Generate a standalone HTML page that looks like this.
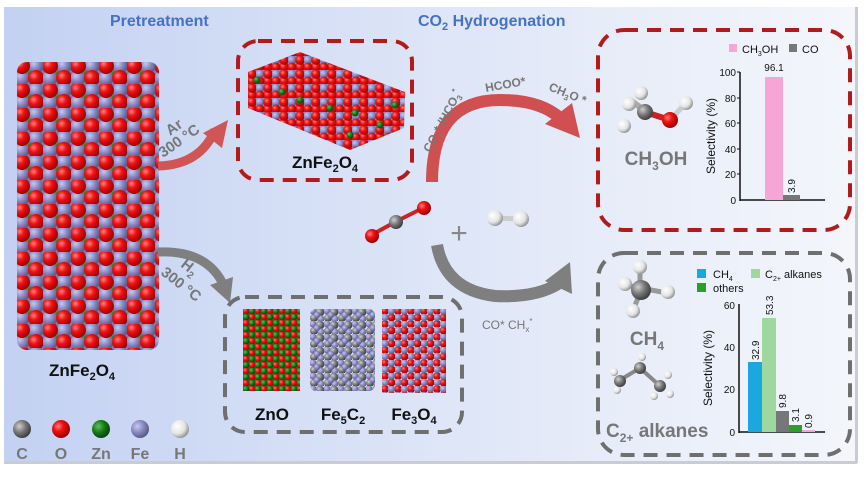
<!DOCTYPE html>
<html><head><meta charset="utf-8"><style>
html,body{margin:0;padding:0;background:#fff;}
svg{display:block;font-family:"Liberation Sans",Arial,sans-serif;}
</style></head><body>
<svg width="866" height="477" viewBox="0 0 866 477" xmlns="http://www.w3.org/2000/svg">
<defs>
<linearGradient id="bg" x1="0" y1="0" x2="1" y2="0">
<stop offset="0" stop-color="#c3d1f2"/><stop offset="0.5" stop-color="#dde5f7"/><stop offset="1" stop-color="#f4f6fb"/>
</linearGradient>
<radialGradient id="gR" cx="0.35" cy="0.35" r="0.7"><stop offset="0" stop-color="#ff8080"/><stop offset="0.4" stop-color="#ee1111"/><stop offset="1" stop-color="#990000"/></radialGradient>
<radialGradient id="gP" cx="0.35" cy="0.35" r="0.7"><stop offset="0" stop-color="#c8c8ee"/><stop offset="0.5" stop-color="#8a8ac4"/><stop offset="1" stop-color="#55557f"/></radialGradient>
<radialGradient id="gG" cx="0.35" cy="0.35" r="0.7"><stop offset="0" stop-color="#5fbf5f"/><stop offset="0.5" stop-color="#167a16"/><stop offset="1" stop-color="#0a400a"/></radialGradient>
<radialGradient id="gK" cx="0.35" cy="0.35" r="0.7"><stop offset="0" stop-color="#cfcfcf"/><stop offset="0.5" stop-color="#777"/><stop offset="1" stop-color="#3a3a3a"/></radialGradient>
<radialGradient id="gW" cx="0.35" cy="0.35" r="0.7"><stop offset="0" stop-color="#ffffff"/><stop offset="0.6" stop-color="#e4e4e4"/><stop offset="1" stop-color="#8d8d8d"/></radialGradient>
<pattern id="pBig" width="28" height="24" patternUnits="userSpaceOnUse" x="15" y="60">
<rect width="28" height="24" fill="#7a7ab0"/>
<circle cx="14" cy="12" r="6" fill="url(#gG)"/>
<circle cx="21" cy="6" r="7.5" fill="url(#gP)"/>
<circle cx="7" cy="18" r="7.5" fill="url(#gP)"/>
<circle cx="7" cy="6" r="8" fill="url(#gR)"/>
<circle cx="21" cy="18" r="8" fill="url(#gR)"/>
</pattern>
<pattern id="pSlab" width="16" height="14" patternUnits="userSpaceOnUse">
<rect width="16" height="14" fill="#8a8ac4"/>
<circle cx="4" cy="4" r="4.5" fill="url(#gP)"/>
<circle cx="12" cy="11" r="5" fill="url(#gR)"/>
<circle cx="12" cy="4" r="4.8" fill="url(#gR)"/>
<circle cx="4" cy="11" r="4.5" fill="url(#gR)"/>
</pattern>
<pattern id="pZnO" width="12" height="12" patternUnits="userSpaceOnUse" x="243" y="308">
<rect width="12" height="12" fill="#167a16"/>
<circle cx="3" cy="3" r="3.6" fill="url(#gR)"/>
<circle cx="9" cy="9" r="3.6" fill="url(#gR)"/>
<circle cx="9" cy="3" r="3.3" fill="url(#gG)"/>
<circle cx="3" cy="9" r="3.3" fill="url(#gG)"/>
</pattern>
<pattern id="pFeC" width="14" height="13" patternUnits="userSpaceOnUse" x="310" y="308">
<circle cx="3" cy="3" r="3.6" fill="url(#gP)"/>
<circle cx="10" cy="4" r="4.4" fill="url(#gK)"/>
<circle cx="4" cy="10" r="4" fill="url(#gK)"/>
<circle cx="11" cy="11" r="3.6" fill="url(#gP)"/>
<circle cx="7" cy="7" r="3.2" fill="url(#gP)"/>
</pattern>
<pattern id="pFeO" width="13" height="13" patternUnits="userSpaceOnUse" x="382" y="308">
<circle cx="3" cy="3" r="4" fill="url(#gR)"/>
<circle cx="9.5" cy="9.5" r="4" fill="url(#gR)"/>
<circle cx="9.5" cy="3" r="3.8" fill="url(#gP)"/>
<circle cx="3" cy="9.5" r="3.8" fill="url(#gP)"/>
</pattern>
</defs>

<rect x="0" y="0" width="866" height="477" fill="#fff"/>
<rect x="4" y="7" width="853" height="456" fill="url(#bg)"/>
<rect x="855" y="7" width="3" height="456" fill="#c9ccd3"/>
<rect x="4" y="461" width="853" height="3" fill="#c9ccd3"/>

<text x="110" y="26" font-size="16" font-weight="bold" fill="#4472c4">Pretreatment</text>
<text x="418" y="26" font-size="16" font-weight="bold" fill="#4472c4">CO<tspan font-size="11" dy="4">2</tspan><tspan dy="-4"> Hydrogenation</tspan></text>

<rect x="17" y="62" width="142" height="288" rx="10" fill="url(#pBig)"/>
<text x="82" y="376" font-size="17" font-weight="bold" fill="#111" text-anchor="middle">ZnFe<tspan font-size="11" dy="4">2</tspan><tspan dy="-4">O</tspan><tspan font-size="11" dy="4">4</tspan></text>

<circle cx="22" cy="429" r="9" fill="url(#gK)"/>
<circle cx="61" cy="429" r="9" fill="url(#gR)"/>
<circle cx="101" cy="429" r="9" fill="url(#gG)"/>
<circle cx="140" cy="429" r="9" fill="url(#gP)"/>
<circle cx="180" cy="429" r="9" fill="url(#gW)"/>
<g font-size="16" font-weight="bold" fill="#777" text-anchor="middle">
<text x="22" y="459">C</text><text x="61" y="459">O</text><text x="101" y="459">Zn</text><text x="140" y="459">Fe</text><text x="180" y="459">H</text>
</g>

<path d="M158,166 Q200,165 215,130" fill="none" stroke="#d05555" stroke-width="9"/>
<polygon points="228,120 222,148 203,133" fill="#d05555"/>
<text font-size="15" font-weight="bold" fill="#777" transform="translate(170,136) rotate(-35)">Ar</text>
<text font-size="15" font-weight="bold" fill="#777" transform="translate(163,158) rotate(-35)">300 °C</text>

<path d="M158,252 Q205,250 222,282" fill="none" stroke="#7f7f7f" stroke-width="9"/>
<polygon points="230,303 210,285 233,277" fill="#7f7f7f"/>
<text font-size="15" font-weight="bold" fill="#777" transform="translate(180,266) rotate(38)">H<tspan font-size="10" dy="4">2</tspan></text>
<text font-size="15" font-weight="bold" fill="#777" transform="translate(160,274) rotate(38)">300 °C</text>

<rect x="238" y="41" width="174" height="139" rx="20" fill="none" stroke="#b31b1b" stroke-width="4" stroke-dasharray="14 9"/>
<polygon points="248,72 300,52 405,92 404,128 350,150 248,108" fill="url(#pSlab)"/>
<circle cx="257" cy="80" r="3.5" fill="url(#gG)"/><circle cx="282" cy="92" r="3.5" fill="url(#gG)"/><circle cx="300" cy="100" r="3.5" fill="url(#gG)"/><circle cx="330" cy="108" r="3.5" fill="url(#gG)"/><circle cx="355" cy="113" r="3.5" fill="url(#gG)"/><circle cx="395" cy="105" r="3.5" fill="url(#gG)"/><circle cx="350" cy="135" r="3.5" fill="url(#gG)"/><circle cx="380" cy="125" r="3.5" fill="url(#gG)"/>
<text x="325" y="168" font-size="17" font-weight="bold" fill="#111" text-anchor="middle">ZnFe<tspan font-size="11" dy="4">2</tspan><tspan dy="-4">O</tspan><tspan font-size="11" dy="4">4</tspan></text>

<rect x="225" y="297" width="237" height="135" rx="20" fill="none" stroke="#6f6f6f" stroke-width="4" stroke-dasharray="14 9"/>
<rect x="243" y="309" width="57" height="82" fill="url(#pZnO)"/>
<rect x="310" y="309" width="65" height="82" rx="6" fill="url(#pFeC)"/>
<rect x="382" y="309" width="64" height="84" fill="url(#pFeO)"/>
<g font-size="17" font-weight="bold" fill="#111" text-anchor="middle">
<text x="272" y="420">ZnO</text>
<text x="343" y="420">Fe<tspan font-size="11" dy="4">5</tspan><tspan dy="-4">C</tspan><tspan font-size="11" dy="4">2</tspan></text>
<text x="414" y="420">Fe<tspan font-size="11" dy="4">3</tspan><tspan dy="-4">O</tspan><tspan font-size="11" dy="4">4</tspan></text>
</g>

<path d="M432,182 Q432,100 500,100 Q540,100 560,118" fill="none" stroke="#d04f50" stroke-width="12"/>
<polygon points="572,103 580,138 545,124" fill="#d04f50"/>
<g font-size="12" fill="#777" font-weight="bold">
<text transform="translate(430,153) rotate(-62)">CO<tspan font-size="8" dy="3">3</tspan><tspan dy="-3">* /HCO</tspan><tspan font-size="8" dy="3">3</tspan><tspan font-size="8" dy="-8">*</tspan></text>
<text transform="translate(486,92) rotate(-10)">HCOO*</text>
<text transform="translate(548,90) rotate(22)">CH<tspan font-size="8" dy="3">3</tspan><tspan dy="-3">O *</tspan></text>
</g>

<path d="M437,245 Q445,290 495,296 Q535,298 558,284" fill="none" stroke="#7f7f7f" stroke-width="12"/>
<polygon points="570,262 572,294 545,281" fill="#7f7f7f"/>
<text x="482" y="329" font-size="12" fill="#777">CO* CH<tspan font-size="8" dy="3">x</tspan><tspan font-size="8" dy="-8">*</tspan></text>

<line x1="368" y1="237" x2="395" y2="222" stroke="#c22" stroke-width="4"/>
<line x1="395" y1="222" x2="423" y2="208" stroke="#c22" stroke-width="4"/>
<circle cx="372" cy="236" r="7" fill="url(#gR)"/>
<circle cx="396" cy="222" r="7" fill="url(#gK)"/>
<circle cx="424" cy="208" r="7" fill="url(#gR)"/>
<text x="459" y="243" font-size="30" fill="#888" text-anchor="middle">+</text>
<line x1="495" y1="218" x2="521" y2="219" stroke="#ccc" stroke-width="5"/>
<circle cx="495" cy="218" r="8" fill="url(#gW)"/>
<circle cx="521" cy="219" r="8" fill="url(#gW)"/>

<rect x="598" y="30" width="252" height="200" rx="26" fill="none" stroke="#b31b1b" stroke-width="4" stroke-dasharray="14 9"/>
<line x1="630" y1="100" x2="648" y2="113" stroke="#aaa" stroke-width="6"/>
<line x1="648" y1="113" x2="670" y2="120" stroke="#c22" stroke-width="6"/>
<line x1="670" y1="120" x2="686" y2="103" stroke="#ccc" stroke-width="5"/>
<circle cx="641" cy="93" r="7" fill="url(#gW)"/>
<circle cx="629" cy="104" r="7" fill="url(#gW)"/>
<circle cx="645" cy="112" r="8" fill="url(#gK)"/>
<circle cx="624" cy="126" r="7" fill="url(#gW)"/>
<circle cx="670" cy="120" r="8" fill="url(#gR)"/>
<circle cx="686" cy="103" r="7" fill="url(#gW)"/>
<text x="656" y="165" font-size="19" font-weight="bold" fill="#777" text-anchor="middle">CH<tspan font-size="12" dy="5">3</tspan><tspan dy="-5">OH</tspan></text>
<rect x="729" y="44" width="8" height="8" fill="#f6a6d6"/>
<text x="742" y="53" font-size="11" fill="#111">CH<tspan font-size="7" dy="3">3</tspan><tspan dy="-3">OH</tspan></text>
<rect x="789" y="44" width="8" height="8" fill="#777"/>
<text x="802" y="53" font-size="11" fill="#111">CO</text>
<line x1="740" y1="72" x2="740" y2="201" stroke="#111" stroke-width="1.5"/>
<line x1="740" y1="200" x2="825" y2="200" stroke="#111" stroke-width="1.5"/>
<g font-size="10" fill="#111" text-anchor="end">
<text x="736" y="76">100</text><text x="736" y="102">80</text><text x="736" y="127">60</text><text x="736" y="153">40</text><text x="736" y="178">20</text><text x="736" y="204">0</text>
</g>
<g stroke="#111"><line x1="737" y1="72" x2="740" y2="72"/><line x1="737" y1="98" x2="740" y2="98"/><line x1="737" y1="123" x2="740" y2="123"/><line x1="737" y1="149" x2="740" y2="149"/><line x1="737" y1="174" x2="740" y2="174"/></g>
<text transform="translate(715,136) rotate(-90)" font-size="12" fill="#111" text-anchor="middle">Selectivity (%)</text>
<rect x="765" y="77" width="18" height="123" fill="#f6a6d6"/>
<rect x="783" y="195" width="17" height="5" fill="#777"/>
<text x="774" y="71" font-size="10" fill="#111" text-anchor="middle">96.1</text>
<text transform="translate(795,193) rotate(-90)" font-size="10" fill="#111">3.9</text>

<rect x="598" y="253" width="252" height="202" rx="26" fill="none" stroke="#6f6f6f" stroke-width="4" stroke-dasharray="14 9"/>
<line x1="640" y1="268" x2="640" y2="295" stroke="#999" stroke-width="5"/>
<line x1="625" y1="285" x2="667" y2="293" stroke="#999" stroke-width="5"/>
<line x1="641" y1="290" x2="633" y2="311" stroke="#999" stroke-width="5"/>
<circle cx="640" cy="267" r="7" fill="url(#gW)"/>
<circle cx="625" cy="284" r="7" fill="url(#gW)"/>
<circle cx="641" cy="290" r="10" fill="url(#gK)"/>
<circle cx="668" cy="292" r="7" fill="url(#gW)"/>
<circle cx="633" cy="311" r="7" fill="url(#gW)"/>
<text x="647" y="345" font-size="19" font-weight="bold" fill="#777" text-anchor="middle">CH<tspan font-size="12" dy="5">4</tspan></text>
<line x1="620" y1="380" x2="640" y2="368" stroke="#888" stroke-width="4"/>
<line x1="640" y1="368" x2="660" y2="386" stroke="#888" stroke-width="4"/>
<circle cx="614" cy="372" r="4" fill="url(#gW)"/><circle cx="617" cy="390" r="4" fill="url(#gW)"/><circle cx="642" cy="357" r="4" fill="url(#gW)"/><circle cx="668" cy="375" r="4" fill="url(#gW)"/><circle cx="654" cy="396" r="4" fill="url(#gW)"/><circle cx="670" cy="394" r="4" fill="url(#gW)"/>
<circle cx="620" cy="381" r="6" fill="url(#gK)"/>
<circle cx="640" cy="368" r="6" fill="url(#gK)"/>
<circle cx="660" cy="386" r="6" fill="url(#gK)"/>
<text x="606" y="437" font-size="19" font-weight="bold" fill="#777">C<tspan font-size="12" dy="5">2+</tspan><tspan dy="-5"> alkanes</tspan></text>
<rect x="697" y="269" width="9" height="9" fill="#1ba8e0"/>
<text x="713" y="278" font-size="11" fill="#111">CH<tspan font-size="7" dy="3">4</tspan></text>
<rect x="751" y="269" width="9" height="9" fill="#9fd89f"/>
<text x="765" y="278" font-size="11" fill="#111">C<tspan font-size="7" dy="3">2+</tspan><tspan dy="-3"> alkanes</tspan></text>
<rect x="697" y="283" width="9" height="9" fill="#2aa02a"/>
<text x="713" y="292" font-size="11" fill="#111">others</text>
<line x1="739" y1="304" x2="739" y2="433" stroke="#111" stroke-width="1.5"/>
<line x1="739" y1="432" x2="825" y2="432" stroke="#111" stroke-width="1.5"/>
<g font-size="10" fill="#111" text-anchor="end">
<text x="735" y="309">60</text><text x="735" y="351">40</text><text x="735" y="393">20</text><text x="735" y="436">0</text>
</g>
<text transform="translate(712,368) rotate(-90)" font-size="12" fill="#111" text-anchor="middle">Selectivity (%)</text>
<rect x="748" y="362" width="14" height="70" fill="#1ba8e0"/>
<rect x="762" y="318" width="14" height="114" fill="#9fd89f"/>
<rect x="776" y="411" width="13" height="21" fill="#777"/>
<rect x="789" y="425" width="13" height="7" fill="#2aa02a"/>
<rect x="802" y="430" width="13" height="2" fill="#f6a6d6"/>
<g font-size="10" fill="#111">
<text transform="translate(759,360) rotate(-90)">32.9</text>
<text transform="translate(773,315) rotate(-90)">53.3</text>
<text transform="translate(786,408) rotate(-90)">9.8</text>
<text transform="translate(799,422) rotate(-90)">3.1</text>
<text transform="translate(812,428) rotate(-90)">0.9</text>
</g>
</svg>
</body></html>
